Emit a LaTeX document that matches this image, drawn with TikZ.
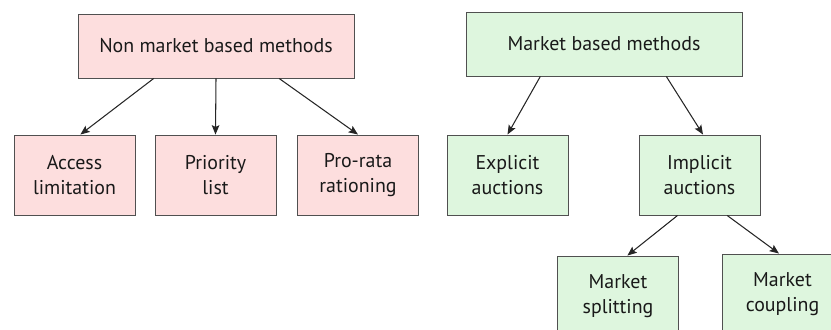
\documentclass[tikz,border=0pt]{standalone}
\usepackage{fontspec}
\setmainfont{PT Sans}
\usetikzlibrary{calc,arrows.meta}
\definecolor{nonmktfill}{RGB}{253,222,222}
\definecolor{mktfill}{RGB}{222,246,222}
\definecolor{boxline}{RGB}{80,80,80}

\begin{document}
\begin{tikzpicture}[x=0.03cm,y=-0.03cm]
        \tikzstyle{every node}=[rectangle, draw=boxline, line width=0.8pt, inner sep=0pt, align=center, font=\fontsize{17}{21.5}\selectfont, text=black!90]
        \tikzstyle{head}=[minimum width=8.28cm, minimum height=1.92cm]
        \tikzstyle{leaf}=[minimum width=3.63cm, minimum height=2.4cm]
        \tikzstyle{edge}=[-{Stealth[length=8pt,width=6.5pt,inset=1.5pt]}, line width=0.9pt, black!85]

        \useasboundingbox (0,0) rectangle (831,329);
        \clip (0,0) rectangle (831,329);

        \node[head, fill=nonmktfill] (nonmkt) at (216,46) {Non market based methods};
        \node[leaf, fill=nonmktfill] (access) at (74.5,175) {Access\\limitation};
        \node[leaf, fill=nonmktfill] (priority) at (215.5,175) {Priority\\list};
        \node[leaf, fill=nonmktfill] (prorata) at (358,175) {Pro-rata\\rationing};

        \node[head, fill=mktfill] (mkt) at (604,44) {Market based methods};
        \node[leaf, fill=mktfill] (explicit) at (507.5,175) {Explicit\\auctions};
        \node[leaf, fill=mktfill] (implicit) at (699.5,175) {Implicit\\auctions};
        \node[leaf, fill=mktfill] (splitting) at (618,296) {Market\\splitting};
        \node[leaf, fill=mktfill] (coupling) at (782.5,294) {Market\\coupling};

        \draw[edge] ($(nonmkt.south west)!0.275!(nonmkt.south east)$) -- ([xshift=5]access.north);
        \draw[edge] (nonmkt.south) -- (priority.north);
        \draw[edge] ($(nonmkt.south west)!0.728!(nonmkt.south east)$) -- (prorata.north);
        \draw[edge] ($(mkt.south west)!0.27!(mkt.south east)$) -- (explicit.north);
        \draw[edge] ($(mkt.south west)!0.725!(mkt.south east)$) -- ([xshift=3]implicit.north);
        \draw[edge] ($(implicit.south west)!0.32!(implicit.south east)$) -- ([xshift=8]splitting.north);
        \draw[edge] ($(implicit.south west)!0.727!(implicit.south east)$) -- ([xshift=-3]coupling.north);
    \end{tikzpicture}
\end{document}
